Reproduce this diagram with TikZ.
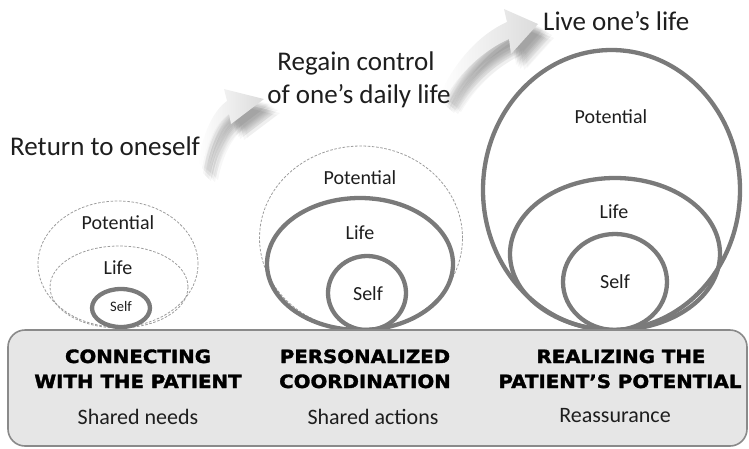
\documentclass[tikz,border=0pt]{standalone}
\usepackage{fontspec}
\setmainfont{Carlito}
\newfontfamily\heavy{DejaVu Sans}[FakeStretch=1.08, BoldFeatures={FakeBold=1.8}]
\usetikzlibrary{shapes.geometric}
\definecolor{ring}{HTML}{7A7A7A}
\definecolor{dashc}{HTML}{9C9C9C}
\definecolor{boxfill}{HTML}{E6E6E6}
\definecolor{boxline}{HTML}{8A8A8A}
\definecolor{txt}{HTML}{1E1E1E}
\begin{document}
\begin{tikzpicture}[x=1pt,y=-1pt,
  ringthick/.style={ellipse, draw=ring, line width=4.3pt, inner sep=0pt},
  ringdash/.style={ellipse, draw=dashc, line width=0.8pt, dash pattern=on 2.6pt off 1.6pt, inner sep=0pt},
  lab/.style={font=\fontsize{20}{22}\selectfont, text=txt, inner sep=0pt},
  bigtxt/.style={font=\fontsize{27}{30}\selectfont, text=txt, inner sep=0pt, anchor=base},
  head/.style={font=\heavy\bfseries\fontsize{18.3}{20}\selectfont, text=black, inner sep=0pt, anchor=base},
  sub/.style={font=\fontsize{22}{24}\selectfont, text=txt, inner sep=0pt, anchor=base},
  arrowbody/.style={left color=white, right color=black!14, draw=none},
]
\useasboundingbox (0,0) rectangle (749,448);

% ---------- arrows ----------
\newcommand{\arrowone}{(198,162) .. controls (203,132) and (214,110) .. (227,101)
   -- (224,89) -- (264,99) -- (231,124) -- (229,114)
   .. controls (217,122) and (207,140) .. (202,166) -- cycle}
\newcommand{\arrowtwo}{(440,94) .. controls (456,60) and (480,34) .. (507,22)
   -- (504,9) -- (538,24) -- (511,54) -- (509,39)
   .. controls (484,50) and (460,72) .. (445,98) -- cycle}
\foreach \dx/\dy in {4/6,6/8,8/10,10/12,5/11,9/7,7/13,11/9,6/5,12/13,14/11,9/15,13/16,16/14}{
  \fill[black, opacity=0.03] [shift={(\dx,\dy)}] \arrowone;
  \fill[black, opacity=0.03] [shift={(\dx,\dy)}] \arrowtwo;
}
\shade[arrowbody] \arrowone;
\shade[arrowbody] \arrowtwo;

% ---------- stage 1 ----------
\node[ringdash, minimum width=160pt, minimum height=126pt] (p1) at (118,264) {};
\node[ringdash, minimum width=138pt, minimum height=82pt] (l1) at (119,287) {};
\node[ringthick, minimum width=58pt, minimum height=38pt] (s1) at (121,308) {};
\node[lab] (tp1) at (118,223) {Potential};
\node[lab] (tl1) at (118,268) {Life};
\node[lab, font=\fontsize{14.5}{16}\selectfont] (ts1) at (121,307) {Self};

% ---------- stage 2 ----------
\node[ringdash, minimum width=203pt, minimum height=184pt] (p2) at (361,238) {};
\node[ringthick, minimum width=186pt, minimum height=132pt] (l2) at (360,264) {};
\node[ringthick, minimum width=78pt, minimum height=74pt] (s2) at (367,293) {};
\node[lab] (tp2) at (360,178) {Potential};
\node[lab] (tl2) at (360,233) {Life};
\node[lab] (ts2) at (368,294) {Self};

% ---------- stage 3 ----------
\node[ringthick, minimum width=257pt, minimum height=280pt] (p3) at (611.5,190) {};
\node[ringthick, minimum width=210pt, minimum height=152pt] (l3) at (615,254) {};
\node[ringthick, minimum width=104pt, minimum height=96pt] (s3) at (615,282) {};
\node[lab] (tp3) at (611,117) {Potential};
\node[lab] (tl3) at (614,212) {Life};
\node[lab] (ts3) at (615,282) {Self};

% ---------- base box ----------
\draw[fill=boxfill, draw=boxline, line width=1.6pt, rounded corners=17pt] (8,330) rectangle (747,446);
\node[head] (h1a) at (138,363) {CONNECTING};
\node[head] (h1b) at (138,388) {WITH THE PATIENT};
\node[sub] (u1) at (138,424) {Shared needs};
\node[head] (h2a) at (365,363) {PERSONALIZED};
\node[head] (h2b) at (365,388) {COORDINATION};
\node[sub] (u2) at (373,424) {Shared actions};
\node[head] (h3a) at (621,363) {REALIZING THE};
\node[head] (h3b) at (620,388) {PATIENT’S POTENTIAL};
\node[sub] (u3) at (615,422) {Reassurance};

% ---------- stage texts ----------
\node[bigtxt, anchor=base west] (r1) at (10,155) {Return to oneself};
\node[bigtxt] (r2a) at (356,70) {Regain control};
\node[bigtxt] (r2b) at (359,103) {of one’s daily life};
\node[bigtxt, anchor=base west] (r3) at (543,30) {Live one’s life};
\end{tikzpicture}
\end{document}
